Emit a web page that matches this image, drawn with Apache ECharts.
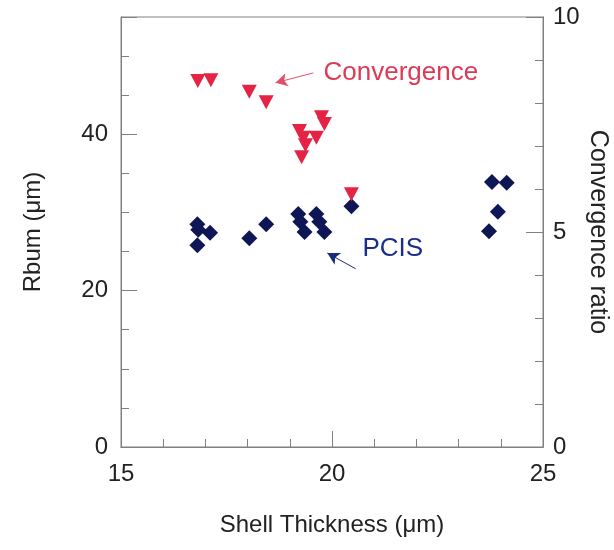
<!DOCTYPE html>
<html>
<head>
<meta charset="utf-8">
<script src="https://cdn.jsdelivr.net/npm/echarts@6/dist/echarts.min.js"></script>
<style>html,body{margin:0;padding:0;background:#fff}#c{width:614px;height:550px}</style>
</head>
<body>
<div id="c"></div>
<script>
// Convergence ratio (right axis) vs shell thickness
const convThickness = [16.82, 17.13, 18.04, 18.44, 19.23, 19.32, 19.37, 19.28, 19.63, 19.75, 19.82, 20.46];
const convRatio     = [8.51, 8.53, 8.26, 8.02, 7.35, 7.19, 7.02, 6.74, 7.19, 7.67, 7.51, 5.88];
// PCIS Rburn (left axis) vs shell thickness
const pcisThickness = [16.81, 16.83, 17.11, 16.81, 18.04, 18.44, 19.20, 19.25, 19.35, 19.63, 19.70, 19.82, 20.46, 23.79, 24.14, 23.93, 23.72];
const pcisRburn     = [28.5, 27.8, 27.4, 25.8, 26.7, 28.5, 29.8, 28.8, 27.5, 29.8, 28.8, 27.5, 30.8, 33.9, 33.8, 30.1, 27.6];
const xLabels = [15, 20, 25];
const leftLabels = [0, 20, 40];
const rightLabels = [0, 5, 10];

const AX = '#808080';
const FONT = 'Liberation Sans, Arial, sans-serif';
const chart = echarts.init(document.getElementById('c'));

function axisBase(extra) {
  return Object.assign({
    type: 'value',
    axisLine: { show: true, lineStyle: { color: AX, width: 1 } },
    splitLine: { show: false },
    axisTick: { show: true, inside: true, length: 8, lineStyle: { color: AX } },
    axisLabel: { show: false }
  }, extra);
}

chart.setOption({
  animation: false,
  backgroundColor: '#fff',
  grid: { left: 121, right: 71, top: 17, bottom: 103, show: true, borderColor: AX, borderWidth: 1,
          containLabel: false, outerBoundsMode: 'none' },
  xAxis: [
    axisBase({ min: 15, max: 25, interval: 1, position: 'bottom',
      name: 'Shell Thickness (\u03bcm)', nameLocation: 'middle', nameGap: 66,
      nameTextStyle: { fontFamily: FONT, fontSize: 24, color: '#222' },
      axisLabel: { show: true, margin: 15, fontFamily: FONT, fontSize: 24, color: '#222',
        formatter: v => xLabels.includes(v) ? String(v) : '' } }),
    axisBase({ min: 15, max: 25, interval: 5, position: 'bottom',
      axisTick: { show: true, inside: true, length: 16, lineStyle: { color: AX } } })
  ],
  yAxis: [
    axisBase({ min: 0, max: 55, interval: 5, position: 'left',
      name: 'Rbum (\u03bcm)', nameLocation: 'middle', nameGap: 76,
      nameTextStyle: { fontFamily: FONT, fontSize: 24, color: '#222' },
      axisLabel: { show: true, margin: 13, fontFamily: FONT, fontSize: 24, color: '#222',
        formatter: v => leftLabels.includes(v) ? String(v) : '' } }),
    axisBase({ min: 0, max: 55, interval: 20, position: 'left',
      axisTick: { show: true, inside: true, length: 16, lineStyle: { color: AX } } }),
    axisBase({ min: 0, max: 10, interval: 1, position: 'right',
      name: 'Convergence ratio', nameLocation: 'middle', nameGap: 42, nameRotate: -90,
      nameMoveOverlap: false,
      nameTextStyle: { fontFamily: FONT, fontSize: 25, color: '#222' },
      axisLabel: { show: true, margin: 10, fontFamily: FONT, fontSize: 24, color: '#222',
        formatter: v => rightLabels.includes(v) ? String(v) : '' } }),
    axisBase({ min: 0, max: 10, interval: 5, position: 'right',
      axisTick: { show: true, inside: true, length: 17, lineStyle: { color: AX } } })
  ],
  series: [
    {
      type: 'scatter', xAxisIndex: 0, yAxisIndex: 0,
      symbol: 'diamond', symbolSize: 16,
      itemStyle: { color: '#0e1656', opacity: 1 },
      data: pcisThickness.map((x, i) => [x, pcisRburn[i]]),
      markLine: {
        silent: true, symbol: ['none', 'arrow'], symbolSize: [10, 12],
        lineStyle: { color: '#1b2a7a', width: 1, type: 'solid' }, label: { show: false },
        data: [[{ coord: [20.56, 22.8] }, { coord: [19.89, 24.8] }]]
      },
      markPoint: {
        silent: true,
        data: [{ coord: [20.72, 25.3], symbol: 'circle', symbolSize: 0,
          label: { show: true, position: 'right', distance: 0, formatter: 'PCIS',
            fontFamily: FONT, fontSize: 26, color: '#1b2d8c' } }]
      }
    },
    {
      type: 'scatter', xAxisIndex: 0, yAxisIndex: 2,
      symbol: 'triangle', symbolRotate: 180, symbolSize: [15, 14],
      itemStyle: { color: '#e52345', opacity: 1 },
      data: convThickness.map((x, i) => [x, convRatio[i]]),
      markLine: {
        silent: true, symbol: ['none', 'arrow'], symbolSize: [10, 12],
        lineStyle: { color: '#e0506a', width: 1, type: 'solid' }, label: { show: false },
        data: [[{ coord: [19.56, 8.70] }, { coord: [18.66, 8.47] }]]
      },
      markPoint: {
        silent: true,
        data: [{ coord: [19.80, 8.70], symbol: 'circle', symbolSize: 0,
          label: { show: true, position: 'right', distance: 0, formatter: 'Convergence',
            fontFamily: FONT, fontSize: 26, color: '#dc3a55' } }]
      }
    }
  ]
});
</script>
</body>
</html>
